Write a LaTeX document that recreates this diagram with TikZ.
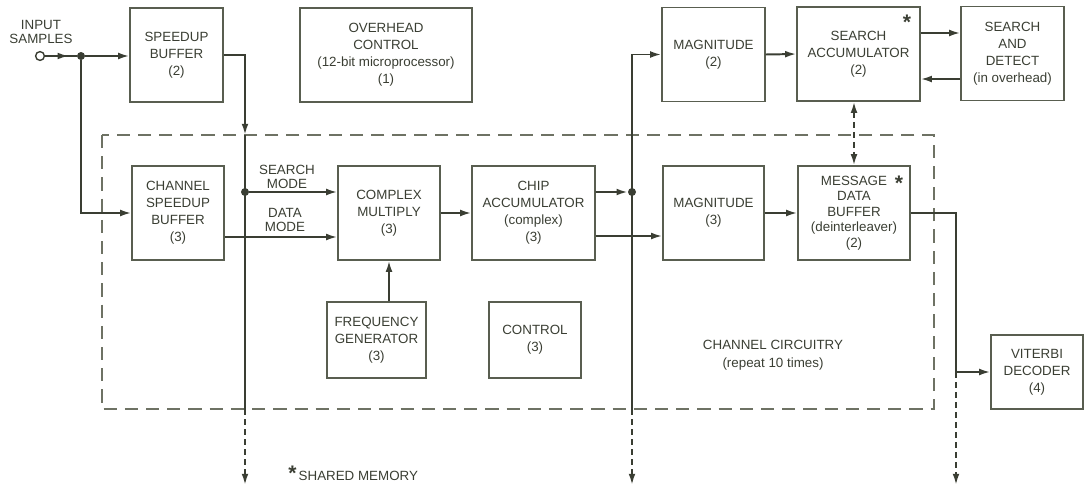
\documentclass[tikz,border=0pt]{standalone}
\usepackage{fontspec}
\setmainfont{Liberation Sans}
\usetikzlibrary{positioning,calc,arrows.meta,decorations.markings}
\definecolor{DiagInk}{HTML}{3A3E33}
\definecolor{DiagBox}{HTML}{595E50}
\definecolor{DiagDash}{HTML}{6E7264}

\begin{document}
\begin{tikzpicture}[
    x=0.025cm, y=-0.025cm,
    font=\fontsize{9.5}{12}\selectfont, text=DiagInk,
    blk/.style={draw=DiagBox, line width=0.9pt, minimum height=2.35cm, align=center, inner sep=2pt},
    wire/.style={line width=1.4pt, draw=DiagInk},
    sig/.style={wire, -{Latex[length=2.8mm,width=1.7mm]}},
    dsig/.style={sig, dash pattern=on 1.6mm off 0.9mm},
    ddsig/.style={dsig, {Latex[length=2.8mm,width=1.7mm]}-{Latex[length=2.8mm,width=1.7mm]}},
    midsig/.style={wire, decoration={markings, mark=at position 0.75 with {\arrow{Latex[length=2.8mm,width=1.7mm]}}}, postaction={decorate}},
    frame/.style={draw=DiagDash, line width=1pt, dash pattern=on 3.3mm off 2mm},
    dot/.style={circle, fill=DiagInk, inner sep=0pt, minimum size=2mm},
    lbl/.style={align=center, inner sep=0pt, font=\fontsize{9.5}{10.5}\selectfont},
    starmark/.style={inner sep=0pt, font=\bfseries\fontsize{15}{15}\selectfont}
  ]
    \useasboundingbox (0,0) rectangle (1084,487);
    \draw[frame] (102,135) rectangle (934,409);

    \node[blk, minimum width=2.325cm] (spbuf) at (176.5,55) {SPEEDUP\\BUFFER\\(2)};
    \node[blk, minimum width=4.3cm] (ovhd) at (386,55) {OVERHEAD\\CONTROL\\(12-bit microprocessor)\\(1)};
    \node[blk, minimum width=2.575cm] (magtop) at (713.5,54.5) {MAGNITUDE\\(2)};
    \node[blk, minimum width=3.075cm] (sacc) at (858.5,54) {SEARCH\\ACCUMULATOR\\(2)};
    \node[blk, minimum width=2.575cm] (sdet) at (1012.5,53.5) {SEARCH\\AND\\DETECT\\(in overhead)};

    \node[blk, minimum width=2.3cm] (chbuf) at (178,213) {CHANNEL\\SPEEDUP\\BUFFER\\(3)};
    \node[blk, minimum width=2.55cm] (cmul) at (389,213) {COMPLEX\\MULTIPLY\\(3)};
    \node[blk, minimum width=3.075cm] (chip) at (533.5,213) {CHIP\\ACCUMULATOR\\(complex)\\(3)};
    \node[blk, minimum width=2.525cm] (magmid) at (713.5,213) {MAGNITUDE\\(3)};
    \node[blk, minimum width=2.8cm, font=\fontsize{9.5}{11}\selectfont] (mdb) at (854,213) {MESSAGE\\DATA\\BUFFER\\(deinterleaver)\\(2)};

    \node[blk, minimum width=2.475cm, minimum height=1.9cm] (fgen) at (376.5,340) {FREQUENCY\\GENERATOR\\(3)};
    \node[blk, minimum width=2.3cm, minimum height=1.9cm] (ctrl) at (535,340) {CONTROL\\(3)};
    \node[blk, minimum width=2.3cm, minimum height=1.85cm] (vit) at (1037,372) {VITERBI\\DECODER\\(4)};

    \node[starmark] (saccstar) at (907,22) {*};
    \node[starmark] (mdbstar) at (899,183) {*};

    \node[lbl] (insamp) at (41,32) {INPUT\\SAMPLES};
    \node[lbl] (srchmode) at (287,177) {SEARCH\\MODE};
    \node[lbl] (datamode) at (285,220) {DATA\\MODE};
    \node[lbl, font=\fontsize{9.5}{13}\selectfont] (chcirc) at (773,355) {CHANNEL CIRCUITRY\\(repeat 10 times)};
    \node[lbl, anchor=west] (shmem) at (288,473) {{\bfseries\fontsize{15}{15}\selectfont *}\,SHARED MEMORY};

    \node[circle, draw=DiagInk, line width=1pt, minimum size=2.2mm, inner sep=0pt] (inp) at (40,56) {};
    \node[dot] (ja) at (81,56) {};
    \node[dot] (jb) at (245,192) {};
    \node[dot] (jc) at (632,192) {};

    \coordinate (busain) at (245,135);
    \coordinate (busaend) at (245,409);
    \coordinate (busaout) at (245,485);
    \coordinate (busbend) at (632,409);
    \coordinate (busbout) at (632,485);
    \coordinate (vturn) at (956,372);
    \coordinate (vout) at (956,485);

    \draw[midsig] (inp) -- (ja);
    \draw[sig] (ja) -- (ja -| spbuf.west);
    \draw[sig] (ja) |- (chbuf.west);
    \draw[sig] (spbuf.east) -| (busain);
    \draw[wire] (busain) -- (busaend);
    \draw[dsig] (busaend) -- (busaout);
    \draw[sig] (jb) -- (jb -| cmul.west);
    \draw[sig] ([yshift=-0.6cm]chbuf.east) -- ([yshift=-0.6cm]chbuf.east -| cmul.west);
    \draw[sig] (cmul.east) -- (chip.west);
    \draw[sig] (fgen.north -| cmul.south) -- (cmul.south);
    \draw[sig] ([yshift=0.525cm]chip.east) -- (jc);
    \draw[sig] ([yshift=-0.575cm]chip.east) -- ([yshift=-0.575cm]chip.east -| magmid.west);
    \draw[sig] (busbend) |- (magtop.west);
    \draw[dsig] (busbend) -- (busbout);
    \draw[sig] (magtop.east) -- (sacc.west);
    \draw[sig] ([yshift=0.525cm]sacc.east) -- ([yshift=0.525cm]sacc.east -| sdet.west);
    \draw[sig] ([yshift=-0.625cm]sacc.east -| sdet.west) -- ([yshift=-0.625cm]sacc.east);
    \draw[ddsig] (mdb.north |- sacc.south) -- (mdb.north);
    \draw[sig] (magmid.east) -- (mdb.west);
    \draw[sig] (mdb.east) -| (vturn) -- (vit.west);
    \draw[dsig] (vturn) -- (vout);
  \end{tikzpicture}
\end{document}
